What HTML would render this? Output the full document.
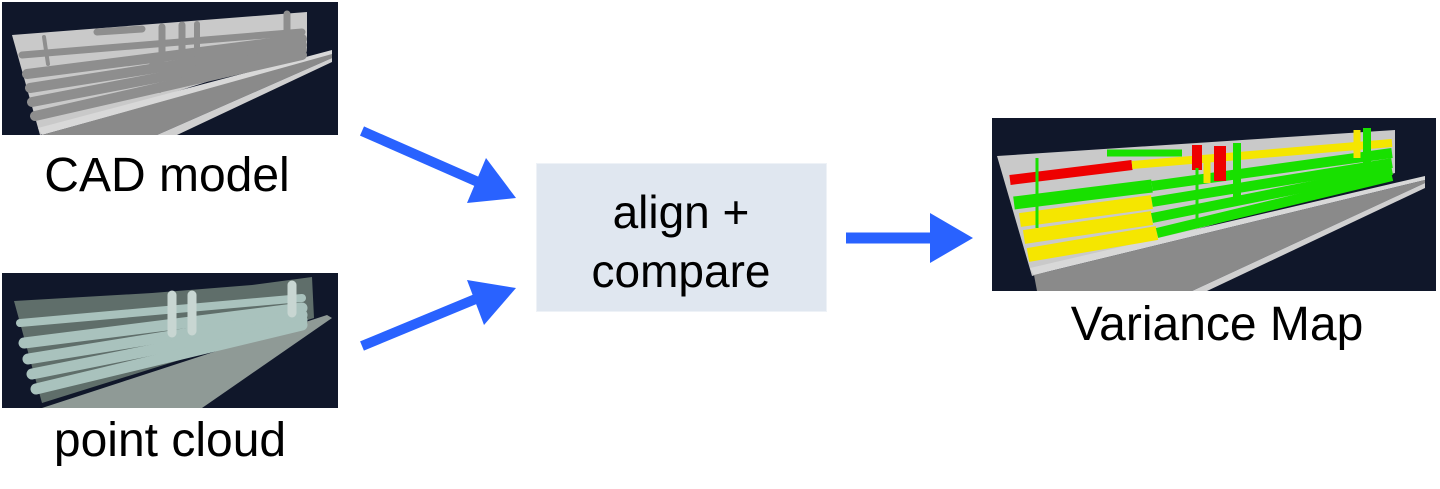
<!DOCTYPE html>
<html><head><meta charset="utf-8"><style>
html,body{margin:0;padding:0;background:#fff;}
body{width:1440px;height:484px;overflow:hidden;position:relative;font-family:"Liberation Sans",Arial,sans-serif;}
</style></head><body>
<svg width="1440" height="484" viewBox="0 0 1440 484" xmlns="http://www.w3.org/2000/svg">
<!-- CAD image -->
<svg x="2" y="2" width="336" height="133" viewBox="0 0 336 133">
<rect width="336" height="133" fill="#10172a"/>
<polygon points="10,33 305,10 305,48 38,133" fill="#c9c9c9"/>
<polygon points="36,126 330,48 330,53 40,133" fill="#d8d8d8"/>
<polygon points="40,133 330,52 330,56 155,133" fill="#8a8a8a"/>
<polygon points="155,133 330,56 330,60 175,133" fill="#d0d0d0"/>
<g stroke="#8e8e8e" stroke-linecap="round" fill="none">
<line x1="20" y1="53" x2="300" y2="30" stroke-width="7"/>
<line x1="25" y1="72" x2="300" y2="37" stroke-width="10"/>
<line x1="28" y1="86" x2="300" y2="43" stroke-width="10"/>
<line x1="30" y1="100" x2="300" y2="48" stroke-width="10"/>
<line x1="33" y1="114" x2="300" y2="53" stroke-width="10"/>
<path d="M160 25 V55 Q160 62 150 64" stroke-width="7"/>
<path d="M180 23 V58" stroke-width="7"/>
<path d="M195 22 V52" stroke-width="6"/>
<path d="M285 12 V40" stroke-width="7"/>
<path d="M95 30 L140 27" stroke-width="7"/>
<line x1="42" y1="35" x2="46" y2="62" stroke-width="4"/>
<line x1="158" y1="40" x2="158" y2="90" stroke-width="2"/>
</g>
</svg>
<!-- point cloud -->
<svg x="2" y="273" width="336" height="135" viewBox="0 0 336 135">
<rect width="336" height="135" fill="#10172a"/>
<polygon points="12,28 150,20 250,12 310,4 312,45 40,130" fill="#5f6e6a"/>
<polygon points="40,135 325,42 330,45 200,135" fill="#8f9a96"/>
<g stroke="#a9c2bd" stroke-linecap="round" fill="none">
<line x1="18" y1="50" x2="300" y2="25" stroke-width="8"/>
<line x1="22" y1="70" x2="300" y2="35" stroke-width="11"/>
<line x1="26" y1="86" x2="300" y2="42" stroke-width="11"/>
<line x1="30" y1="101" x2="300" y2="47" stroke-width="11"/>
<line x1="34" y1="116" x2="300" y2="52" stroke-width="11"/>
<path d="M170 22 V60" stroke="#c8d6d2" stroke-width="9"/>
<path d="M190 22 V58" stroke="#c8d6d2" stroke-width="9"/>
<path d="M290 12 V40" stroke="#c8d6d2" stroke-width="9"/>
</g>
</svg>
<!-- variance map -->
<svg x="992" y="118" width="444" height="173" viewBox="0 0 444 173">
<rect width="444" height="173" fill="#10172a"/>
<polygon points="5,38 403,12 403,55 40,158" fill="#c9c9c9"/>
<polygon points="38,150 433,58 433,62 42,157" fill="#d8d8d8"/>
<polygon points="42,157 433,62 433,65 200,173 45,173" fill="#8a8a8a"/>
<polygon points="200,173 433,65 433,70 215,173" fill="#d0d0d0"/>
<g stroke-linecap="butt" fill="none">
<line x1="18" y1="62" x2="140" y2="47" stroke="#ee0000" stroke-width="10"/>
<line x1="140" y1="47" x2="400" y2="25" stroke="#f5e600" stroke-width="8"/>
<line x1="22" y1="85" x2="160" y2="68" stroke="#18e000" stroke-width="13"/>
<line x1="160" y1="68" x2="400" y2="35" stroke="#18e000" stroke-width="10"/>
<line x1="28" y1="102" x2="160" y2="84" stroke="#f5e600" stroke-width="14"/>
<line x1="160" y1="84" x2="400" y2="45" stroke="#18e000" stroke-width="10"/>
<line x1="32" y1="119" x2="160" y2="100" stroke="#f5e600" stroke-width="14"/>
<line x1="160" y1="100" x2="400" y2="52" stroke="#18e000" stroke-width="10"/>
<line x1="36" y1="137" x2="165" y2="115" stroke="#f5e600" stroke-width="14"/>
<line x1="165" y1="115" x2="400" y2="58" stroke="#18e000" stroke-width="10"/>
<rect x="200" y="27" width="10" height="25" fill="#ee0000"/>
<rect x="222" y="28" width="12" height="35" fill="#ee0000"/>
<path d="M245 25 V80" stroke="#18e000" stroke-width="8"/>
<path d="M215 40 V65" stroke="#f5e600" stroke-width="7"/>
<path d="M375 10 V45" stroke="#18e000" stroke-width="8"/>
<path d="M365 12 V40" stroke="#f5e600" stroke-width="7"/>
<path d="M115 35 H190" stroke="#18e000" stroke-width="7"/>
<path d="M45 40 V110" stroke="#18e000" stroke-width="3"/>
<path d="M205 50 V105" stroke="#18e000" stroke-width="3"/>
</g>
</svg>
<!-- box -->
<rect x="536.5" y="163.5" width="290" height="148" fill="#e0e7f0" stroke="#eef2f7"/>
<text x="681" y="228" font-size="46" text-anchor="middle" fill="#000">align +</text>
<text x="681" y="287" font-size="46" text-anchor="middle" fill="#000">compare</text>
<!-- arrows -->
<g fill="#2962ff" stroke="#2962ff">
<line x1="362" y1="131" x2="478" y2="182" stroke-width="10"/>
<polygon points="516,198 467,203 486,158" stroke="none"/>
<line x1="362" y1="346" x2="478" y2="298" stroke-width="10"/>
<polygon points="516,288 467,280 484,325" stroke="none"/>
<line x1="846" y1="238" x2="935" y2="238" stroke-width="11"/>
<polygon points="930,213 973,238 930,263" stroke="none"/>
</g>
<!-- labels -->
<text x="167" y="191" font-size="48" text-anchor="middle" fill="#000">CAD model</text>
<text x="170" y="456" font-size="48" text-anchor="middle" fill="#000">point cloud</text>
<text x="1217" y="340" font-size="48" text-anchor="middle" fill="#000">Variance Map</text>
</svg>
</body></html>
